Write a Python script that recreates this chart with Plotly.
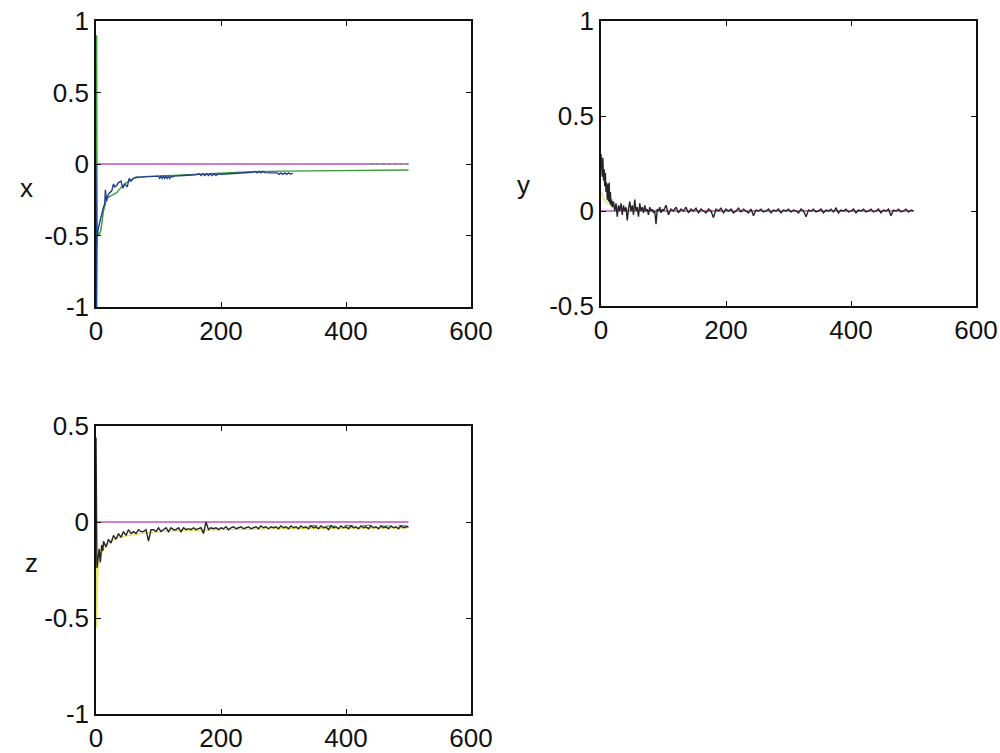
import plotly.graph_objects as go

# ---------------- data ----------------
# subplot x
x_true_t = [0, 500]
x_true_v = [0, 0]

x_green_t = [0, 1, 1.5, 2, 4, 7.5, 12, 17, 25, 33, 41, 49, 60, 75, 97, 130, 161, 200, 241, 300, 350, 400, 450, 500]
x_green_v = [0, 0.9, 0.0, -0.42, -0.5, -0.47, -0.33, -0.24, -0.22, -0.2, -0.16, -0.13, -0.1, -0.088, -0.085, -0.078, -0.072, -0.064, -0.055, -0.05, -0.047, -0.045, -0.043, -0.042]

x_green_dot_t = [438, 500]
x_green_dot_v = [0.0, 0.0]

x_blue_t = [0, 1, 1.5, 2, 5, 8, 10, 12, 14, 15, 17, 19, 22, 25, 28, 30, 33, 36, 40, 43, 46, 50, 53, 56, 60, 65, 70,
            80, 90, 100, 102, 104, 106, 108, 110, 112, 114, 116, 118, 120, 122, 125, 140,
            160, 165, 168, 171, 174, 177, 180, 183, 186, 189, 192, 195, 200, 220, 240, 250,
            255, 258, 261, 264, 267, 270, 280, 290, 293, 296, 299, 302, 305, 308, 311, 315]
x_blue_v = [0, -1.0, -0.6, -0.48, -0.42, -0.37, -0.33, -0.30, -0.28, -0.18, -0.26, -0.22, -0.2, -0.19, -0.14, -0.16, -0.15, -0.13, -0.12, -0.17, -0.14, -0.16, -0.1, -0.12, -0.1, -0.09, -0.092,
            -0.09, -0.09, -0.085, -0.1, -0.085, -0.1, -0.085, -0.1, -0.085, -0.1, -0.085, -0.1, -0.085, -0.09, -0.085, -0.08,
            -0.075, -0.068, -0.08, -0.068, -0.08, -0.068, -0.08, -0.068, -0.08, -0.068, -0.08, -0.068, -0.072, -0.066, -0.062, -0.058,
            -0.052, -0.062, -0.052, -0.062, -0.052, -0.06, -0.062, -0.062, -0.072, -0.062, -0.072, -0.062, -0.072, -0.062, -0.07, -0.065]

# subplot y
y_true_t = [0, 500]
y_true_v = [0, 0]

y_dark_t = [0, 1, 2, 3, 4, 5, 6, 7, 8, 9, 10, 11, 12, 13, 14, 15, 16, 17, 18, 20, 22, 24, 26, 28, 30, 32, 34, 36, 38, 40,
            42, 44, 46, 48, 50, 52, 54, 56, 58, 60, 62, 64, 66, 68, 70, 72, 74, 76, 78, 80, 82, 84, 86, 88, 90, 92, 94, 96, 98, 100,
            104, 108, 112, 116, 120, 124, 128, 132, 136, 140, 144, 148, 152, 156, 160, 164, 168, 172, 176, 180, 184, 188, 192, 196, 200,
            204, 208, 212, 216, 220, 224, 228, 232, 236, 240, 244, 248, 252, 256, 260, 264, 268, 272, 276, 280, 284, 288, 292, 296, 300,
            304, 308, 312, 316, 320, 324, 328, 332, 336, 340, 344, 348, 352, 356, 360, 364, 368, 372, 376, 380, 384, 388, 392, 396, 400,
            404, 408, 412, 416, 420, 424, 428, 432, 436, 440, 444, 448, 452, 456, 460, 464, 468, 472, 476, 480, 484, 488, 492, 496, 500]
y_dark_v = [0.30, 0.26, 0.18, 0.28, 0.16, 0.22, 0.13, 0.20, 0.10, 0.15, 0.06, 0.14, 0.05, 0.15, 0.04, 0.10, 0.03, 0.06, 0.02, 0.05, 0.0, 0.04, -0.03, 0.03, 0.0, 0.04, -0.02, 0.03, 0.0, 0.02,
            -0.05, 0.01, 0.05, 0.0, 0.03, -0.02, 0.06, 0.0, 0.02, -0.03, 0.04, 0.0, 0.02, -0.01, 0.03, 0.0, 0.01, -0.02, 0.02, 0.0, 0.01, -0.01, 0.0, -0.07, 0.01, 0.0, 0.02, -0.01, 0.01, 0.0,
            0.03, -0.02, 0.01, 0.0, 0.02, -0.01, 0.01, 0.0, 0.02, -0.01, 0.01, 0.0, 0.015, -0.01, 0.01, 0.0, -0.01, 0.01, 0.0, -0.035, 0.01, 0.0, 0.015, -0.01, 0.01,
            0.0, 0.01, -0.01, 0.0, 0.015, -0.005, 0.01, 0.0, -0.01, 0.01, -0.025, 0.005, 0.0, 0.01, -0.005, 0.0, 0.01, -0.01, 0.005, 0.0, 0.01, -0.01, 0.005, 0.0, 0.01,
            -0.005, 0.005, 0.0, -0.01, 0.01, 0.0, -0.03, 0.005, 0.0, 0.01, -0.005, 0.0, 0.01, -0.01, 0.005, 0.0, 0.01, -0.005, 0.015, -0.01, 0.005, 0.0, 0.01, -0.005, 0.0,
            0.01, -0.01, 0.005, 0.0, 0.01, -0.005, 0.0, 0.01, -0.005, 0.0, 0.01, -0.01, 0.005, 0.0, 0.01, -0.025, 0.005, 0.0, 0.01, -0.005, 0.0, 0.01, -0.005, 0.005, 0.0]

y_yellow_t = [0, 5, 10, 20, 40, 80, 120, 200, 300, 400, 500]
y_yellow_v = [0.1, 0.06, 0.04, 0.02, 0.01, 0.005, 0.0, 0.0, 0.0, 0.0, 0.0]

# subplot z
z_true_t = [0, 500]
z_true_v = [0, 0]

z_yellow_t = [0, 1, 2, 3, 5, 8, 12, 17, 25, 35, 50, 70, 100, 150, 200, 300, 400, 500]
z_yellow_v = [0.0, -0.55, -0.35, -0.25, -0.2, -0.17, -0.14, -0.12, -0.1, -0.08, -0.07, -0.06, -0.05, -0.045, -0.04, -0.035, -0.032, -0.03]

z_dark_t = [0, 1, 1.5, 3, 5, 7, 9, 11,
            12, 16, 20, 24, 28, 32, 36, 40, 44, 48, 52, 56, 60, 64, 68, 72, 76, 80, 84, 88, 92, 96, 100,
            104, 108, 112, 116, 120, 124, 128, 132, 136, 140, 144, 148, 152, 156, 160, 164, 168, 172, 176, 180, 184, 188, 192, 196, 200,
            204, 208, 212, 216, 220, 224, 228, 232, 236, 240, 244, 248, 252, 256, 260, 264, 268, 272, 276, 280, 284, 288, 292, 296, 300,
            304, 308, 312, 316, 320, 324, 328, 332, 336, 340, 344, 348, 352, 356, 360, 364, 368, 372, 376, 380, 384, 388, 392, 396, 400,
            404, 408, 412, 416, 420, 424, 428, 432, 436, 440, 444, 448, 452, 456, 460, 464, 468, 472, 476, 480, 484, 488, 492, 496, 500]
z_dark_v = [0.44, 0.0, -0.24, -0.2, -0.14, -0.21, -0.12, -0.15,
            -0.1, -0.13, -0.09, -0.11, -0.07, -0.09, -0.06, -0.08, -0.05, -0.07, -0.04, -0.06, -0.05, -0.06, -0.04, -0.05, -0.05, -0.04, -0.1, -0.04, -0.04, -0.05, -0.03,
            -0.05, -0.04, -0.03, -0.05, -0.03, -0.04, -0.04, -0.03, -0.05, -0.03, -0.04, -0.035, -0.04, -0.03, -0.04, -0.035, -0.03, -0.06, 0.0, -0.04, -0.03, -0.035, -0.03, -0.04, -0.03,
            -0.035, -0.025, -0.04, -0.03, -0.025, -0.035, -0.03, -0.025, -0.035, -0.03, -0.025, -0.035, -0.03, -0.025, -0.035, -0.02, -0.03, -0.025, -0.035, -0.025, -0.03, -0.025, -0.035, -0.02, -0.03,
            -0.025, -0.035, -0.02, -0.03, -0.025, -0.035, -0.02, -0.03, -0.025, -0.035, -0.02, -0.03, -0.025, -0.035, -0.02, -0.03, -0.025, -0.04, -0.02, -0.03, -0.025, -0.035, -0.02, -0.03, -0.025,
            -0.035, -0.02, -0.03, -0.025, -0.035, -0.02, -0.03, -0.025, -0.035, -0.02, -0.03, -0.025, -0.035, -0.02, -0.03, -0.025, -0.035, -0.02, -0.03, -0.025, -0.035, -0.02, -0.03, -0.025, -0.025]

z_teal_t = [340, 360, 380, 400, 420, 440, 460, 480, 500]
z_teal_v = [-0.02, -0.018, -0.022, -0.018, -0.02, -0.017, -0.021, -0.018, -0.02]

x_ticks = [0, 200, 400, 600]
ticks_x_sub = [-1, -0.5, 0, 0.5, 1]
ticks_y_sub = [-0.5, 0, 0.5, 1]
ticks_z_sub = [-1, -0.5, 0, 0.5]
tick_text_x = ["-1", "-0.5", "0", "0.5", "1"]
tick_text_y = ["-0.5", "0", "0.5", "1"]
tick_text_z = ["-1", "-0.5", "0", "0.5"]

MAG = "#c050c0"
GREEN = "#3c9c3c"
BLUE = "#203c90"
DARK = "#252525"
YEL = "#e4e45a"
TEAL = "#3aa09a"

fig = go.Figure()

def line(t, v, color, xa, ya, width=1.2, dash="solid"):
    fig.add_trace(go.Scatter(x=t, y=v, mode="lines", line=dict(color=color, width=width, dash=dash),
                             xaxis=xa, yaxis=ya, showlegend=False, hoverinfo="skip"))

# subplot 1
line(x_true_t, x_true_v, MAG, "x", "y", 1.4)
line(x_green_dot_t, x_green_dot_v, GREEN, "x", "y", 1.2, "dot")
line(x_green_t, x_green_v, GREEN, "x", "y", 1.4)
line(x_blue_t, x_blue_v, BLUE, "x", "y", 1.4)
# subplot 2
line(y_yellow_t, y_yellow_v, YEL, "x2", "y2", 1.2)
line(y_true_t, y_true_v, MAG, "x2", "y2", 1.4)
line(y_dark_t, y_dark_v, DARK, "x2", "y2", 1.4)
# subplot 3
line(z_yellow_t, z_yellow_v, YEL, "x3", "y3", 1.3)
line(z_true_t, z_true_v, MAG, "x3", "y3", 1.4)
line(z_teal_t, z_teal_v, TEAL, "x3", "y3", 1.2, "dash")
line(z_dark_t, z_dark_v, DARK, "x3", "y3", 1.4)

FONT = dict(family="Liberation Sans, Arial", size=26, color="#111")

W, H = 1000, 753

def px_x(p):
    return p / W

def px_y(p):
    return 1 - p / H

COMMON = dict(showline=True, mirror="ticks", linecolor="#111", linewidth=1.6, ticks="inside", ticklen=5,
              tickcolor="#111", tickwidth=1.3, showgrid=False, zeroline=False, tickfont=FONT,
              automargin=False, ticklabeloverflow="allow")

def xax(l, r, anchor):
    return dict(domain=[px_x(l), px_x(r)], anchor=anchor, range=[0, 600], tickvals=x_ticks,
                ticktext=[str(v) for v in x_ticks], **COMMON)

def yax(top, bot, anchor, rng, tv, tt):
    return dict(domain=[px_y(bot), px_y(top)], anchor=anchor, range=rng, tickvals=tv, ticktext=tt, **COMMON)

fig.update_layout(
    width=W, height=H, margin=dict(l=0, r=0, t=0, b=0),
    paper_bgcolor="white", plot_bgcolor="white",
    xaxis=xax(96, 471, "y"),
    yaxis=yax(21, 307, "x", [-1, 1], ticks_x_sub, tick_text_x),
    xaxis2=xax(601, 976, "y2"),
    yaxis2=yax(21, 306, "x2", [-0.5, 1], ticks_y_sub, tick_text_y),
    xaxis3=xax(96, 471, "y3"),
    yaxis3=yax(426, 714, "x3", [-1, 0.5], ticks_z_sub, tick_text_z),
    annotations=[
        dict(text="x", x=px_x(18), y=px_y(171), xref="paper", yref="paper", showarrow=False, font=FONT),
        dict(text="y", x=px_x(523), y=px_y(168), xref="paper", yref="paper", showarrow=False, font=FONT),
        dict(text="z", x=px_x(23), y=px_y(580), xref="paper", yref="paper", showarrow=False, font=FONT),
    ],
)

fig.write_html("out.html", config={"displayModeBar": False},
               post_script="document.body.style.margin='0px';document.body.style.overflow='hidden';")
